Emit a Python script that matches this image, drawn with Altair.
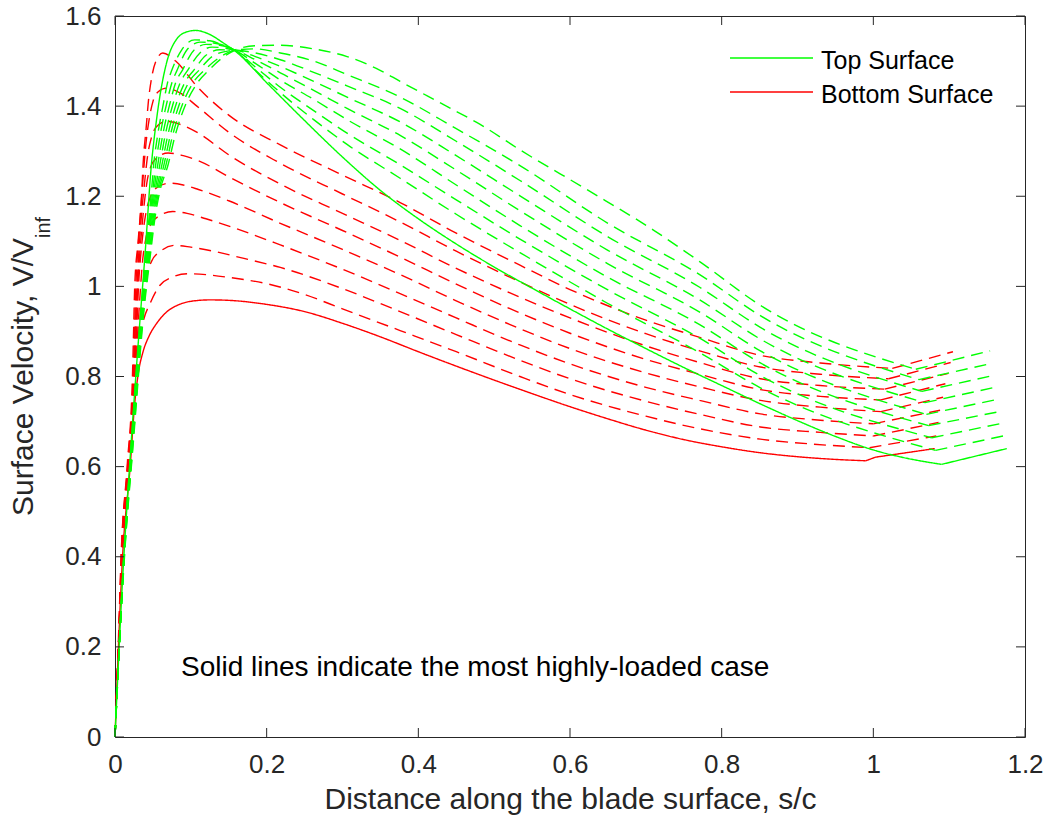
import altair as alt
import pandas as pd

# ---------------- axis / text content ----------------
X_TICKS = [0, 0.2, 0.4, 0.6, 0.8, 1.0, 1.2]
Y_TICKS = [0, 0.2, 0.4, 0.6, 0.8, 1.0, 1.2, 1.4, 1.6]
SERIES = ["Top Surface", "Bottom Surface"]
COLORS = ["#00ff00", "#ff0000"]
STYLES = ["solid", "dashed"]
NOTE = "Solid lines indicate the most highly-loaded case"
X_TITLE = "Distance along the blade surface, s/c"
Y_TITLE = "Surface Velocity, V/V"
Y_TITLE_SUB = "inf"

# ---------------- bottom surface (red); curve 0 = most highly-loaded (solid) ----------------
BOTTOM_0_S = [0, 0.005, 0.010, 0.020, 0.026, 0.031, 0.037, 0.045, 0.055, 0.068, 0.085, 0.105, 0.125, 0.150, 0.200, 0.250, 0.300, 0.350, 0.400, 0.450, 0.500, 0.550, 0.600, 0.650, 0.700, 0.750, 0.800, 0.850, 0.900, 0.950, 0.990, 1.003, 1.081]
BOTTOM_0_V = [0, 0.22, 0.40, 0.60, 0.74, 0.81, 0.855, 0.89, 0.918, 0.943, 0.960, 0.968, 0.970, 0.969, 0.960, 0.944, 0.918, 0.888, 0.855, 0.823, 0.792, 0.762, 0.733, 0.706, 0.681, 0.660, 0.644, 0.631, 0.622, 0.616, 0.613, 0.621, 0.640]
BOTTOM_1_S = [0, 0.005, 0.0098, 0.0195, 0.0283, 0.032, 0.037, 0.046, 0.059, 0.075, 0.095, 0.120, 0.150, 0.200, 0.250, 0.300, 0.376, 0.450, 0.534, 0.600, 0.700, 0.771, 0.851, 0.920, 0.995, 1.083]
BOTTOM_1_V = [0, 0.22, 0.40, 0.60, 0.80, 0.87, 0.92, 0.961, 1.002, 1.020, 1.028, 1.026, 1.020, 1.006, 0.982, 0.950, 0.902, 0.855, 0.800, 0.760, 0.712, 0.684, 0.661, 0.650, 0.642, 0.668]
BOTTOM_2_S = [0, 0.005, 0.0095, 0.019, 0.0275, 0.031, 0.035, 0.040, 0.048, 0.060, 0.079, 0.100, 0.130, 0.170, 0.218, 0.300, 0.376, 0.450, 0.534, 0.600, 0.700, 0.771, 0.851, 0.930, 1.000, 1.086]
BOTTOM_2_V = [0, 0.22, 0.40, 0.60, 0.80, 0.89, 0.96, 1.015, 1.055, 1.078, 1.091, 1.087, 1.078, 1.062, 1.042, 0.995, 0.944, 0.893, 0.836, 0.795, 0.745, 0.716, 0.688, 0.676, 0.668, 0.698]
BOTTOM_3_S = [0, 0.005, 0.0093, 0.0185, 0.0268, 0.030, 0.033, 0.036, 0.040, 0.048, 0.060, 0.076, 0.095, 0.120, 0.160, 0.218, 0.300, 0.376, 0.450, 0.534, 0.600, 0.700, 0.771, 0.851, 0.930, 1.000, 1.088]
BOTTOM_3_V = [0, 0.22, 0.40, 0.60, 0.80, 0.90, 0.98, 1.05, 1.10, 1.14, 1.158, 1.166, 1.162, 1.150, 1.128, 1.092, 1.038, 0.984, 0.930, 0.870, 0.828, 0.776, 0.747, 0.717, 0.703, 0.695, 0.725]
BOTTOM_4_S = [0, 0.005, 0.009, 0.018, 0.026, 0.029, 0.031, 0.034, 0.037, 0.041, 0.047, 0.056, 0.072, 0.090, 0.110, 0.150, 0.218, 0.300, 0.376, 0.450, 0.534, 0.600, 0.700, 0.771, 0.851, 0.930, 1.010, 1.092]
BOTTOM_4_V = [0, 0.22, 0.40, 0.60, 0.80, 0.92, 1.00, 1.07, 1.12, 1.165, 1.20, 1.22, 1.229, 1.225, 1.215, 1.19, 1.140, 1.082, 1.026, 0.968, 0.906, 0.862, 0.808, 0.777, 0.747, 0.732, 0.722, 0.754]
BOTTOM_5_S = [0, 0.005, 0.0088, 0.0175, 0.0255, 0.028, 0.030, 0.033, 0.036, 0.039, 0.042, 0.047, 0.055, 0.070, 0.090, 0.110, 0.150, 0.218, 0.300, 0.376, 0.450, 0.534, 0.600, 0.700, 0.771, 0.851, 0.930, 1.010, 1.095]
BOTTOM_5_V = [0, 0.22, 0.40, 0.60, 0.80, 0.92, 1.00, 1.08, 1.14, 1.19, 1.23, 1.265, 1.285, 1.296, 1.290, 1.279, 1.243, 1.186, 1.124, 1.065, 1.005, 0.941, 0.896, 0.838, 0.805, 0.771, 0.756, 0.748, 0.784]
BOTTOM_6_S = [0, 0.005, 0.0085, 0.017, 0.0248, 0.027, 0.029, 0.032, 0.035, 0.039, 0.043, 0.048, 0.055, 0.068, 0.085, 0.110, 0.150, 0.218, 0.300, 0.376, 0.450, 0.534, 0.600, 0.700, 0.771, 0.851, 0.930, 1.015, 1.099]
BOTTOM_6_V = [0, 0.22, 0.40, 0.60, 0.80, 0.92, 1.00, 1.09, 1.16, 1.23, 1.29, 1.33, 1.355, 1.366, 1.360, 1.340, 1.292, 1.227, 1.162, 1.102, 1.040, 0.976, 0.930, 0.868, 0.831, 0.795, 0.780, 0.772, 0.807]
BOTTOM_7_S = [0, 0.005, 0.0083, 0.0165, 0.024, 0.0258, 0.0275, 0.031, 0.034, 0.037, 0.041, 0.045, 0.050, 0.057, 0.068, 0.085, 0.108, 0.150, 0.218, 0.300, 0.376, 0.450, 0.534, 0.600, 0.700, 0.771, 0.851, 0.930, 1.020, 1.102]
BOTTOM_7_V = [0, 0.22, 0.40, 0.60, 0.80, 0.90, 1.00, 1.10, 1.17, 1.24, 1.32, 1.37, 1.41, 1.432, 1.440, 1.430, 1.400, 1.342, 1.273, 1.205, 1.143, 1.078, 1.010, 0.960, 0.895, 0.857, 0.821, 0.805, 0.795, 0.831]
BOTTOM_8_S = [0, 0.005, 0.008, 0.016, 0.023, 0.0245, 0.026, 0.0305, 0.035, 0.037, 0.041, 0.044, 0.048, 0.054, 0.063, 0.080, 0.108, 0.150, 0.218, 0.300, 0.376, 0.450, 0.534, 0.600, 0.700, 0.771, 0.851, 0.930, 1.025, 1.105]
BOTTOM_8_V = [0, 0.24, 0.40, 0.60, 0.80, 0.90, 1.00, 1.10, 1.20, 1.27, 1.35, 1.41, 1.46, 1.50, 1.518, 1.50, 1.444, 1.38, 1.314, 1.247, 1.186, 1.118, 1.047, 0.993, 0.925, 0.887, 0.847, 0.830, 0.818, 0.855]

# ---------------- top surface (green); curve 0 = most highly-loaded (solid) ----------------
TOP_0_S = [0, 0.010, 0.020, 0.030, 0.040, 0.048, 0.054, 0.059, 0.068, 0.081, 0.095, 0.106, 0.125, 0.143, 0.160, 0.200, 0.250, 0.300, 0.350, 0.400, 0.450, 0.500, 0.550, 0.600, 0.650, 0.700, 0.750, 0.800, 0.850, 0.900, 0.950, 1.000, 1.040, 1.090, 1.176]
TOP_0_V = [0, 0.35, 0.62, 0.86, 1.08, 1.27, 1.36, 1.42, 1.496, 1.548, 1.565, 1.568, 1.559, 1.540, 1.520, 1.452, 1.368, 1.287, 1.213, 1.150, 1.094, 1.043, 0.996, 0.950, 0.905, 0.862, 0.820, 0.780, 0.740, 0.702, 0.667, 0.637, 0.620, 0.605, 0.640]
TOP_1_S = [0, 0.0115, 0.0215, 0.035, 0.040, 0.045, 0.048, 0.051, 0.056, 0.064, 0.069, 0.075, 0.088, 0.105, 0.125, 0.143, 0.158, 0.185, 0.218, 0.262, 0.306, 0.376, 0.450, 0.534, 0.650, 0.771, 0.851, 1.082, 1.171]
TOP_1_V = [0, 0.40, 0.65, 0.96, 1.06, 1.155, 1.21, 1.27, 1.333, 1.407, 1.45, 1.48, 1.525, 1.547, 1.545, 1.535, 1.524, 1.48, 1.43, 1.37, 1.315, 1.240, 1.160, 1.075, 0.962, 0.853, 0.775, 0.636, 0.668]
TOP_2_S = [0, 0.0116, 0.0218, 0.0356, 0.0409, 0.0461, 0.0496, 0.0537, 0.0593, 0.0683, 0.075, 0.082, 0.095, 0.112, 0.130, 0.158, 0.185, 0.218, 0.262, 0.306, 0.376, 0.450, 0.534, 0.650, 0.771, 0.851, 1.077, 1.169]
TOP_2_V = [0, 0.40, 0.65, 0.96, 1.06, 1.155, 1.21, 1.27, 1.333, 1.407, 1.452, 1.48, 1.525, 1.542, 1.540, 1.524, 1.487, 1.442, 1.39, 1.34, 1.27, 1.192, 1.105, 0.992, 0.885, 0.802, 0.664, 0.696]
TOP_3_S = [0, 0.0117, 0.0221, 0.0361, 0.0417, 0.0471, 0.0511, 0.0564, 0.0626, 0.0726, 0.080, 0.089, 0.103, 0.120, 0.138, 0.158, 0.185, 0.218, 0.262, 0.306, 0.376, 0.450, 0.534, 0.650, 0.771, 0.851, 1.073, 1.169]
TOP_3_V = [0, 0.40, 0.65, 0.96, 1.06, 1.155, 1.21, 1.27, 1.333, 1.407, 1.452, 1.48, 1.522, 1.537, 1.535, 1.524, 1.495, 1.458, 1.415, 1.37, 1.305, 1.225, 1.135, 1.020, 0.915, 0.830, 0.691, 0.723]
TOP_4_S = [0, 0.0119, 0.0224, 0.0367, 0.0426, 0.0481, 0.0527, 0.0591, 0.0659, 0.0769, 0.086, 0.096, 0.112, 0.128, 0.158, 0.185, 0.218, 0.262, 0.306, 0.376, 0.450, 0.534, 0.650, 0.771, 0.851, 1.070, 1.166]
TOP_4_V = [0, 0.40, 0.65, 0.96, 1.06, 1.155, 1.21, 1.27, 1.333, 1.407, 1.452, 1.48, 1.518, 1.531, 1.524, 1.503, 1.474, 1.435, 1.395, 1.335, 1.258, 1.168, 1.050, 0.943, 0.857, 0.716, 0.750]
TOP_5_S = [0, 0.0120, 0.0228, 0.0373, 0.0434, 0.0493, 0.0543, 0.0619, 0.0693, 0.0811, 0.092, 0.104, 0.120, 0.138, 0.158, 0.185, 0.218, 0.262, 0.306, 0.376, 0.450, 0.534, 0.650, 0.771, 0.851, 1.068, 1.163]
TOP_5_V = [0, 0.40, 0.65, 0.96, 1.06, 1.155, 1.21, 1.27, 1.333, 1.407, 1.452, 1.48, 1.513, 1.525, 1.524, 1.51, 1.488, 1.455, 1.42, 1.365, 1.290, 1.201, 1.080, 0.970, 0.883, 0.742, 0.777]
TOP_6_S = [0, 0.0121, 0.0231, 0.0379, 0.0443, 0.0506, 0.0559, 0.0646, 0.0726, 0.0854, 0.097, 0.111, 0.128, 0.145, 0.158, 0.185, 0.218, 0.262, 0.306, 0.376, 0.450, 0.534, 0.650, 0.771, 0.851, 1.064, 1.160]
TOP_6_V = [0, 0.40, 0.65, 0.96, 1.06, 1.155, 1.21, 1.27, 1.333, 1.407, 1.452, 1.48, 1.510, 1.521, 1.524, 1.518, 1.503, 1.475, 1.445, 1.395, 1.322, 1.235, 1.110, 0.998, 0.909, 0.767, 0.803]
TOP_7_S = [0, 0.0123, 0.0236, 0.0384, 0.0451, 0.0518, 0.0574, 0.0673, 0.0757, 0.0897, 0.103, 0.118, 0.138, 0.158, 0.185, 0.218, 0.262, 0.306, 0.376, 0.450, 0.534, 0.650, 0.771, 0.851, 1.060, 1.156]
TOP_7_V = [0, 0.40, 0.65, 0.96, 1.06, 1.155, 1.21, 1.27, 1.333, 1.407, 1.452, 1.48, 1.508, 1.524, 1.527, 1.518, 1.50, 1.47, 1.42, 1.350, 1.268, 1.140, 1.026, 0.935, 0.793, 0.829]
TOP_8_S = [0, 0.0125, 0.024, 0.039, 0.046, 0.053, 0.059, 0.070, 0.079, 0.094, 0.108, 0.125, 0.140, 0.158, 0.185, 0.218, 0.262, 0.306, 0.349, 0.376, 0.437, 0.481, 0.534, 0.622, 0.710, 0.771, 0.851, 1.056, 1.154]
TOP_8_V = [0, 0.40, 0.65, 0.96, 1.06, 1.155, 1.21, 1.27, 1.333, 1.407, 1.45, 1.482, 1.505, 1.524, 1.534, 1.535, 1.527, 1.51, 1.48, 1.455, 1.40, 1.36, 1.303, 1.215, 1.125, 1.055, 0.958, 0.816, 0.857]

BOTTOM = [(BOTTOM_0_S, BOTTOM_0_V), (BOTTOM_1_S, BOTTOM_1_V), (BOTTOM_2_S, BOTTOM_2_V),
          (BOTTOM_3_S, BOTTOM_3_V), (BOTTOM_4_S, BOTTOM_4_V), (BOTTOM_5_S, BOTTOM_5_V),
          (BOTTOM_6_S, BOTTOM_6_V), (BOTTOM_7_S, BOTTOM_7_V), (BOTTOM_8_S, BOTTOM_8_V)]
TOP = [(TOP_0_S, TOP_0_V), (TOP_1_S, TOP_1_V), (TOP_2_S, TOP_2_V), (TOP_3_S, TOP_3_V),
       (TOP_4_S, TOP_4_V), (TOP_5_S, TOP_5_V), (TOP_6_S, TOP_6_V), (TOP_7_S, TOP_7_V),
       (TOP_8_S, TOP_8_V)]

rows = []


def add_curve(surface, k, S, V):
    n = len(S)
    # trailing-edge kink: minimum over the aft part of the curve
    kink = min((i for i in range(n) if S[i] > 0.8), key=lambda i: V[i])
    for i, (s, v) in enumerate(zip(S, V)):
        base = dict(s=s, v=v, surface=surface, curve=f"{surface} {k}",
                    style=STYLES[0] if k == 0 else STYLES[1], order=i)
        if i <= kink:
            rows.append({**base, "part": "main"})
        if i >= kink:
            rows.append({**base, "part": "tail"})


for k, (S, V) in enumerate(BOTTOM):
    add_curve(SERIES[1], k, S, V)
for k, (S, V) in enumerate(TOP):
    add_curve(SERIES[0], k, S, V)

df = pd.DataFrame(rows)

W, H = 910, 721
AX = "#262626"
FONT = "Liberation Sans"
TICK = 9
LW = 1.4

xscale = alt.Scale(domain=[0, 1.2], nice=False, zero=False)
yscale = alt.Scale(domain=[0, 1.6], nice=False, zero=False)
xaxis = alt.Axis(values=X_TICKS, format="~g", title=X_TITLE, ticks=False, domain=False,
                 grid=False, labelFontSize=26, titleFontSize=30, labelColor=AX,
                 titleColor=AX, labelFont=FONT, titleFont=FONT, titleFontWeight="normal",
                 labelPadding=14, titlePadding=7, labelFlush=False)
yaxis = alt.Axis(values=Y_TICKS, format="~g", title=None, ticks=False, domain=False,
                 grid=False, labelFontSize=26, labelColor=AX, labelFont=FONT,
                 labelPadding=14, labelFlush=False)

color = alt.Color("surface:N", scale=alt.Scale(domain=SERIES, range=COLORS), legend=None)
dash = alt.StrokeDash("style:N", scale=alt.Scale(domain=STYLES, range=[[1, 0], [12, 7]]),
                      legend=None)


def lines(surface, part, interp):
    return (
        alt.Chart(df)
        .transform_filter((alt.datum.surface == surface) & (alt.datum.part == part))
        .mark_line(interpolate=interp, strokeWidth=LW)
        .encode(
            x=alt.X("s:Q", scale=xscale, axis=xaxis),
            y=alt.Y("v:Q", scale=yscale, axis=yaxis),
            color=color,
            strokeDash=dash,
            detail="curve:N",
            order="order:Q",
        )
    )


xt = pd.DataFrame({"t": X_TICKS})
yt = pd.DataFrame({"t": Y_TICKS})
tick_x_bottom = alt.Chart(xt).mark_rule(color=AX, strokeWidth=1).encode(
    x=alt.X("t:Q", scale=xscale, axis=xaxis), y=alt.value(H), y2=alt.value(H - TICK))
tick_x_top = alt.Chart(xt).mark_rule(color=AX, strokeWidth=1).encode(
    x=alt.X("t:Q", scale=xscale, axis=xaxis), y=alt.value(0), y2=alt.value(TICK))
tick_y_left = alt.Chart(yt).mark_rule(color=AX, strokeWidth=1).encode(
    y=alt.Y("t:Q", scale=yscale, axis=yaxis), x=alt.value(0), x2=alt.value(TICK))
tick_y_right = alt.Chart(yt).mark_rule(color=AX, strokeWidth=1).encode(
    y=alt.Y("t:Q", scale=yscale, axis=yaxis), x=alt.value(W), x2=alt.value(W - TICK))

note = alt.Chart(pd.DataFrame({"label": [NOTE]})).mark_text(
    align="left", baseline="middle", fontSize=28, font=FONT, color="black"
).encode(x=alt.datum(0.087), y=alt.datum(0.153), text="label:N")

ytitle = alt.Chart(pd.DataFrame({"label": [Y_TITLE]})).mark_text(
    align="right", baseline="alphabetic", angle=270, fontSize=30, font=FONT, color=AX
).encode(x=alt.value(-82), y=alt.value(222), text="label:N")
ytitle_sub = alt.Chart(pd.DataFrame({"label": [Y_TITLE_SUB]})).mark_text(
    align="left", baseline="alphabetic", angle=270, fontSize=20, font=FONT, color=AX
).encode(x=alt.value(-65), y=alt.value(222), text="label:N")

leg_df = pd.DataFrame({"label": SERIES, "color": COLORS})
legend_layers = []
for i, (lab, col) in enumerate(zip(SERIES, COLORS)):
    ly = 42 + 34 * i
    legend_layers.append(
        alt.Chart(leg_df.iloc[[i]]).mark_rule(color=col, strokeWidth=LW).encode(
            x=alt.value(615), x2=alt.value(698), y=alt.value(ly)))
    legend_layers.append(
        alt.Chart(leg_df.iloc[[i]]).mark_text(
            align="left", baseline="middle", fontSize=25, font=FONT, color="black"
        ).encode(x=alt.value(706), y=alt.value(ly + 3), text="label:N"))

chart = alt.layer(
    lines(SERIES[1], "main", "monotone"),
    lines(SERIES[1], "tail", "linear"),
    lines(SERIES[0], "main", "monotone"),
    lines(SERIES[0], "tail", "linear"),
    tick_x_bottom, tick_x_top, tick_y_left, tick_y_right,
    note, ytitle, ytitle_sub,
    *legend_layers,
).properties(
    width=W, height=H,
    autosize=alt.AutoSizeParams(type="none"),
    padding={"left": 115, "top": 16, "right": 25, "bottom": 92},
    background="white",
).configure_view(stroke=AX, strokeWidth=1)

chart.save("out.html", embed_options={"renderer": "svg", "actions": False})
